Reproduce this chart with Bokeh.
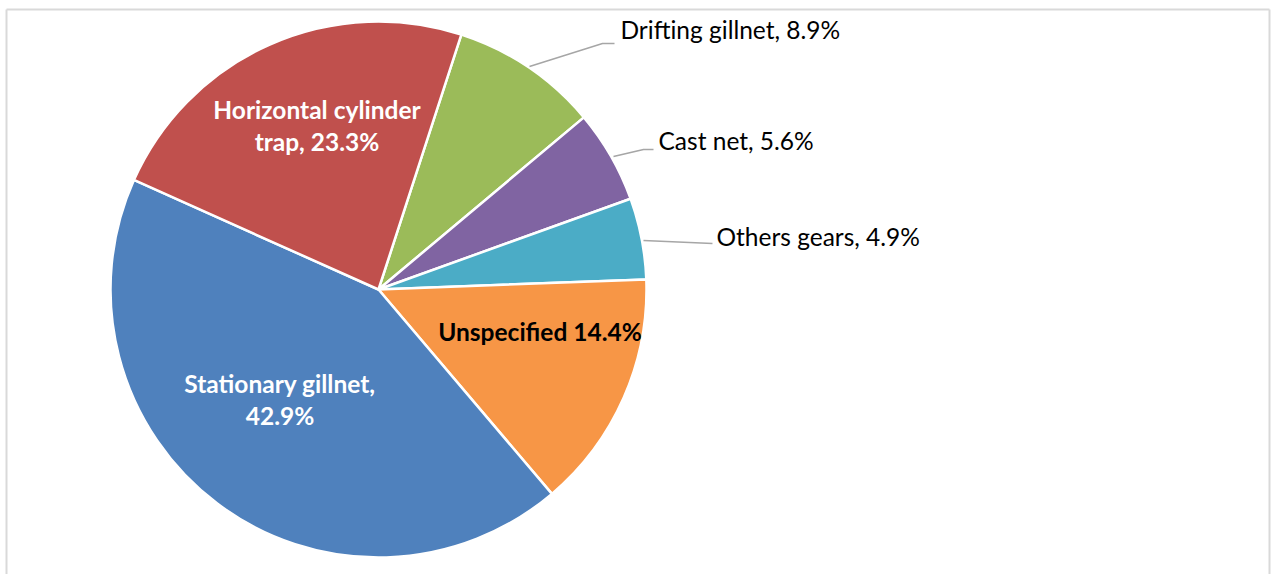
import math
from bokeh.plotting import figure
from bokeh.models import Range1d, ColumnDataSource
from bokeh.core.properties import value
from bokeh.embed import file_html
from bokeh.resources import INLINE

# ---- data ----
categories = ["Drifting gillnet", "Cast net", "Others gears", "Unspecified",
              "Stationary gillnet", "Horizontal cylinder trap"]
percents = [8.9, 5.6, 4.9, 14.4, 42.9, 23.3]
label_texts = ["Drifting gillnet, 8.9%", "Cast net, 5.6%", "Others gears, 4.9%",
               "Unspecified 14.4%", "Stationary gillnet,\n42.9%",
               "Horizontal cylinder\ntrap, 23.3%"]
colors = ["#9BBB59", "#8064A2", "#4BACC6", "#F79646", "#4F81BD", "#C0504D"]

# ---- layout ----
W, H = 1274, 574
TOP = 574  # data y = TOP - page_y
cx, cy = 378, TOP - 289
R = 268
start_deg = 18.0  # clockwise from 12 o'clock

p = figure(width=W, height=H, output_backend="svg", toolbar_location=None,
           x_range=Range1d(0, W), y_range=Range1d(0, H), min_border=0)
p.axis.visible = False
p.grid.visible = False
p.outline_line_color = None
p.background_fill_color = "white"
p.border_fill_color = "white"

# frame (left, top, right)
p.segment(x0=[6, 6, 1269], y0=[TOP - 580, TOP - 9, TOP - 9],
          x1=[6, 1269, 1269], y1=[TOP - 9, TOP - 9, TOP - 580],
          line_color="#D9D9D9", line_width=2)

starts, ends = [], []
acc = start_deg
for pc in percents:
    s = acc
    e = acc + pc * 3.6
    starts.append(math.radians(90 - s))
    ends.append(math.radians(90 - e))
    acc = e

src = ColumnDataSource(dict(start=starts, end=ends, color=colors, cat=categories))
p.wedge(x=cx, y=cy, radius=R, start_angle="start", end_angle="end",
        direction="clock", fill_color="color", line_color="white",
        line_width=2.5, source=src)

FONT = "Lato"
FS = "24.5px"
# inside labels: index -> (page x, page y of block centre, colour)
inside = {3: (539.5, 331, "black"), 4: (279.5, 399, "white"),
          5: (316.5, 125, "white")}
for i, (px, py, col) in inside.items():
    lines = label_texts[i].split("\n")
    n = len(lines)
    ly = TOP - py
    ys = [ly + (n - 1) * 16 - k * 32 for k in range(n)]
    p.text(x=[px] * n, y=ys, text=lines, text_align="center",
           text_baseline="middle", text_color=col, text_font=value(FONT),
           text_font_style="bold", text_font_size=FS)

# outside labels with leader lines
outside = {
    0: ([529, 602, 614], [66, 43, 43], 620, 29),
    1: ([613, 643, 653], [156, 149, 149], 658, 140),
    2: ([643, 712], [240, 243], 716, 236),
}
for i, (xs, ys, tx, ty) in outside.items():
    p.line(x=xs, y=[TOP - v for v in ys], line_color="#A6A6A6", line_width=1.5)
    p.text(x=[tx], y=[TOP - ty], text=[label_texts[i]], text_align="left",
           text_baseline="middle", text_color="black", text_font=value(FONT),
           text_font_size=FS)

open("out.html", "w").write(file_html(p, INLINE))
